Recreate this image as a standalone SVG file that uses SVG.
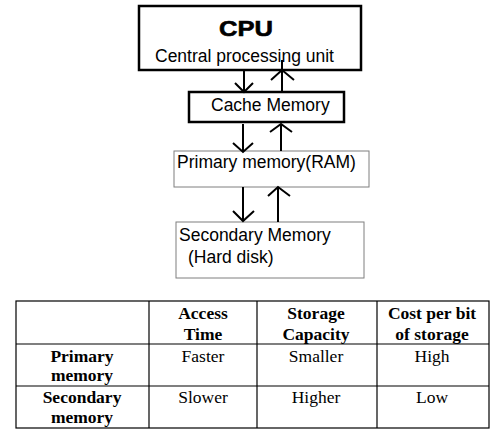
<svg xmlns="http://www.w3.org/2000/svg" width="502" height="441" viewBox="0 0 502 441">
<style>
.sans{font-family:"Liberation Sans",Arial,sans-serif;fill:#000}
.lbl{font-size:17.5px}
.thick{fill:#fff;stroke:#000;stroke-width:2.5}
.thin{fill:#fff;stroke:#7f7f7f;stroke-width:1}
.arr{fill:none;stroke:#000;stroke-width:2;stroke-linecap:butt}
.tbl{fill:none;stroke:#000;stroke-width:1.2}
.serif{font-family:"Liberation Serif","Times New Roman",serif;font-size:17.5px;fill:#000;text-anchor:middle}
.b{font-weight:bold}
</style>
<rect width="502" height="441" fill="#fff"/>
<g id="cpu">
<rect class="thick" x="139" y="6" width="222" height="64"/>
<text class="sans" x="246" y="36" font-size="22" font-weight="bold" text-anchor="middle" stroke="#000" stroke-width="0.6" textLength="54" lengthAdjust="spacingAndGlyphs">CPU</text>
<text class="sans lbl" x="155" y="62">Central processing unit</text>
</g>
<g id="cache">
<rect class="thick" x="189" y="92" width="155" height="30"/>
<text class="sans lbl" x="211" y="111">Cache Memory</text>
</g>
<g id="primary">
<rect class="thin" x="174" y="151" width="195" height="36"/>
<text class="sans lbl" x="177" y="168">Primary memory(RAM)</text>
</g>
<g id="secondary">
<rect class="thin" x="176" y="222" width="188" height="56"/>
<text class="sans lbl" x="179" y="241">Secondary Memory</text>
<text class="sans lbl" x="188" y="263">(Hard disk)</text>
</g>
<g id="connectors">
<line class="arr" x1="244" y1="70" x2="244" y2="92"/>
<polyline class="arr" points="235,83 244,92 253,83"/>
<line class="arr" x1="282" y1="92" x2="282" y2="60"/>
<polyline class="arr" points="271,80 282,70 294,80"/>
<line class="arr" x1="243" y1="124" x2="243" y2="152"/>
<polyline class="arr" points="233,143 243,152 253,143"/>
<line class="arr" x1="281" y1="151" x2="281" y2="124"/>
<polyline class="arr" points="270,132 281,124 292,132"/>
<line class="arr" x1="243" y1="187" x2="243" y2="221"/>
<polyline class="arr" points="233,211 243,221 254,211"/>
<line class="arr" x1="278" y1="222" x2="278" y2="187"/>
<polyline class="arr" points="268,196 278,187 290,196"/>
</g>
<g id="table">
<rect class="tbl" x="16" y="301" width="473" height="127"/>
<line class="tbl" x1="149" y1="301" x2="149" y2="428"/>
<line class="tbl" x1="257" y1="301" x2="257" y2="428"/>
<line class="tbl" x1="377" y1="301" x2="377" y2="428"/>
<line class="tbl" x1="16" y1="344" x2="489" y2="344"/>
<line class="tbl" x1="16" y1="386" x2="489" y2="386"/>
<text class="serif b" x="203" y="319">Access</text>
<text class="serif b" x="203" y="340">Time</text>
<text class="serif b" x="316" y="319">Storage</text>
<text class="serif b" x="316" y="340">Capacity</text>
<text class="serif b" x="432" y="319">Cost per bit</text>
<text class="serif b" x="432" y="340">of storage</text>
<text class="serif b" x="82" y="362">Primary</text>
<text class="serif b" x="82" y="381">memory</text>
<text class="serif b" x="82" y="403">Secondary</text>
<text class="serif b" x="82" y="423">memory</text>
<text class="serif" x="203" y="362">Faster</text>
<text class="serif" x="316" y="362">Smaller</text>
<text class="serif" x="432" y="362">High</text>
<text class="serif" x="203" y="403">Slower</text>
<text class="serif" x="316" y="403">Higher</text>
<text class="serif" x="432" y="403">Low</text>
</g>
</svg>
